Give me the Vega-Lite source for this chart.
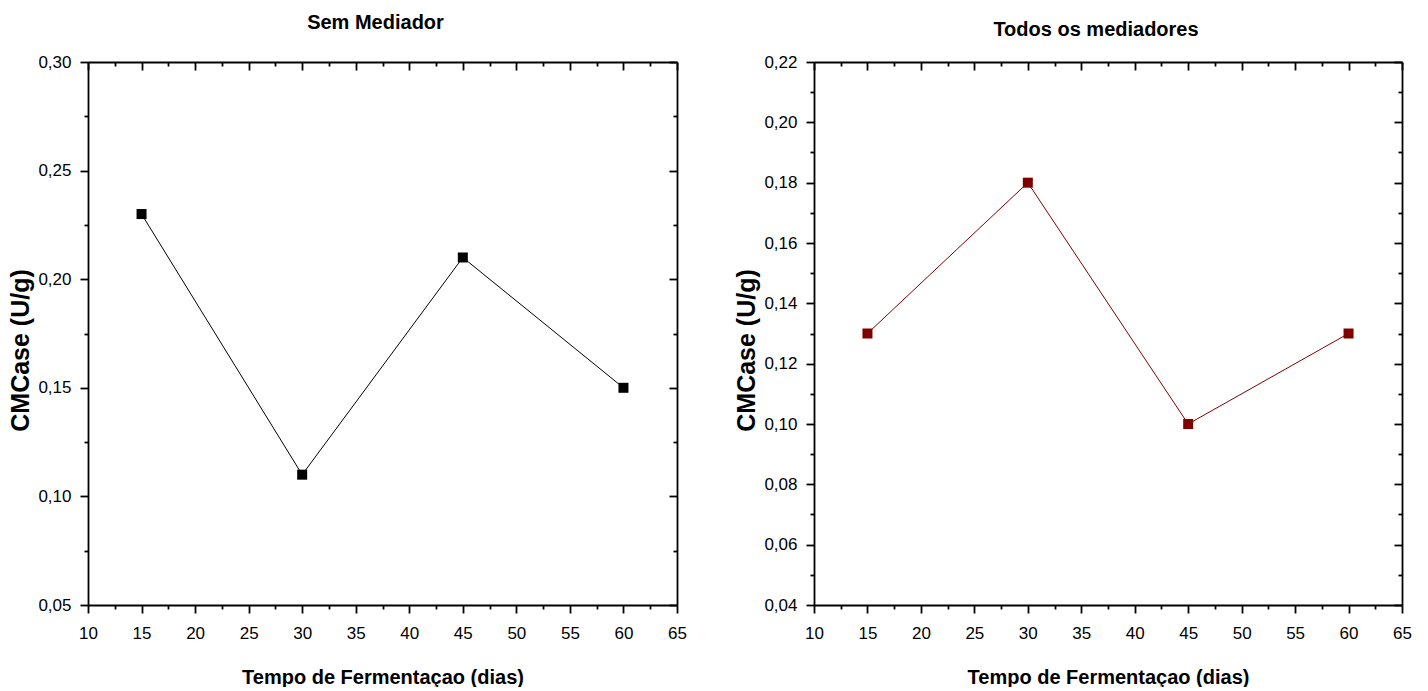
{
  "$schema": "https://vega.github.io/schema/vega-lite/v6.json",
  "background": "white",
  "padding": {"left": 8, "top": 13, "right": 5, "bottom": 0},
  "spacing": 47,
  "config": {
    "view": {"stroke": null},
    "font": "Liberation Sans",
    "axis": {
      "grid": false,
      "domainColor": "black",
      "domainWidth": 1.8,
      "tickColor": "black",
      "tickWidth": 1.8,
      "labelColor": "black",
      "labelFont": "Liberation Sans",
      "labelFontSize": 17,
      "labelFlush": false,
      "labelOverlap": false,
      "titleColor": "black",
      "titleFont": "Liberation Sans",
      "titleFontWeight": "bold",
      "titleFontSize": 20
    },
    "title": {"font": "Liberation Sans", "fontSize": 20, "fontWeight": "bold", "color": "black"}
  },
  "datasets": {
    "sem": [
      {"dias": 15, "cmcase": 0.23},
      {"dias": 30, "cmcase": 0.11},
      {"dias": 45, "cmcase": 0.21},
      {"dias": 60, "cmcase": 0.15}
    ],
    "todos": [
      {"dias": 15, "cmcase": 0.13},
      {"dias": 30, "cmcase": 0.18},
      {"dias": 45, "cmcase": 0.10},
      {"dias": 60, "cmcase": 0.13}
    ]
  },
  "hconcat": [
    {
      "width": 589,
      "height": 543,
      "title": {"text": "Sem Mediador", "offset": 20, "dx": -7},
      "data": {"name": "sem"},
      "layer": [
        {
          "mark": {"type": "line", "color": "black", "strokeWidth": 1},
          "encoding": {
            "x": {"field": "dias", "type": "quantitative", "scale": {"domain": [10, 65], "nice": false, "zero": false},
              "axis": {"orient": "bottom", "values": [10, 12.5, 15, 17.5, 20, 22.5, 25, 27.5, 30, 32.5, 35, 37.5, 40, 42.5, 45, 47.5, 50, 52.5, 55, 57.5, 60, 62.5, 65],
                "tickSize": {"condition": {"test": "datum.value % 5 == 0", "value": 8}, "value": 4},
                "labelExpr": "datum.value % 5 == 0 ? format(datum.value, 'd') : ''",
                "labelPadding": 12, "title": "Tempo de Fermentaçao (dias)", "titlePadding": 26}},
            "y": {"field": "cmcase", "type": "quantitative", "scale": {"domain": [0.05, 0.30], "nice": false, "zero": false},
              "axis": {"orient": "left", "values": [0.05, 0.075, 0.1, 0.125, 0.15, 0.175, 0.2, 0.225, 0.25, 0.275, 0.3],
                "tickSize": {"condition": {"test": "abs(datum.value * 20 - round(datum.value * 20)) < 1e-6", "value": 8}, "value": 4},
                "labelExpr": "abs(datum.value * 20 - round(datum.value * 20)) < 1e-6 ? replace(format(datum.value, '.2f'), '.', ',') : ''",
                "labelPadding": 9, "title": "CMCase (U/g)", "titleFontSize": 25, "titlePadding": 4, "titleY": 288}}
          }
        },
        {
          "mark": {"type": "square", "size": 100, "filled": true, "color": "black", "opacity": 1},
          "encoding": {
            "x": {"field": "dias", "type": "quantitative", "axis": null},
            "y": {"field": "cmcase", "type": "quantitative", "axis": null}
          }
        },
        {
          "mark": {"type": "line", "opacity": 0},
          "encoding": {
            "x": {"field": "dias", "type": "quantitative",
              "axis": {"orient": "top", "values": [10, 12.5, 15, 17.5, 20, 22.5, 25, 27.5, 30, 32.5, 35, 37.5, 40, 42.5, 45, 47.5, 50, 52.5, 55, 57.5, 60, 62.5, 65],
                "tickSize": {"condition": {"test": "datum.value % 5 == 0", "value": -8}, "value": -4},
                "labels": false, "title": null}},
            "y": {"field": "cmcase", "type": "quantitative",
              "axis": {"orient": "right", "values": [0.05, 0.075, 0.1, 0.125, 0.15, 0.175, 0.2, 0.225, 0.25, 0.275, 0.3],
                "tickSize": {"condition": {"test": "abs(datum.value * 20 - round(datum.value * 20)) < 1e-6", "value": -8}, "value": -4},
                "labels": false, "title": null}}
          }
        }
      ],
      "resolve": {"axis": {"x": "independent", "y": "independent"}}
    },
    {
      "width": 588,
      "height": 543,
      "title": {"text": "Todos os mediadores", "offset": 13, "dx": -12},
      "data": {"name": "todos"},
      "layer": [
        {
          "mark": {"type": "line", "color": "#800000", "strokeWidth": 1},
          "encoding": {
            "x": {"field": "dias", "type": "quantitative", "scale": {"domain": [10, 65], "nice": false, "zero": false},
              "axis": {"orient": "bottom", "values": [10, 12.5, 15, 17.5, 20, 22.5, 25, 27.5, 30, 32.5, 35, 37.5, 40, 42.5, 45, 47.5, 50, 52.5, 55, 57.5, 60, 62.5, 65],
                "tickSize": {"condition": {"test": "datum.value % 5 == 0", "value": 8}, "value": 4},
                "labelExpr": "datum.value % 5 == 0 ? format(datum.value, 'd') : ''",
                "labelPadding": 12, "title": "Tempo de Fermentaçao (dias)", "titlePadding": 26}},
            "y": {"field": "cmcase", "type": "quantitative", "scale": {"domain": [0.04, 0.22], "nice": false, "zero": false},
              "axis": {"orient": "left", "values": [0.04, 0.05, 0.06, 0.07, 0.08, 0.09, 0.1, 0.11, 0.12, 0.13, 0.14, 0.15, 0.16, 0.17, 0.18, 0.19, 0.2, 0.21, 0.22],
                "tickSize": {"condition": {"test": "abs(datum.value * 50 - round(datum.value * 50)) < 1e-6", "value": 8}, "value": 4},
                "labelExpr": "abs(datum.value * 50 - round(datum.value * 50)) < 1e-6 ? replace(format(datum.value, '.2f'), '.', ',') : ''",
                "labelPadding": 9, "title": "CMCase (U/g)", "titleFontSize": 25, "titlePadding": 4, "titleY": 288}}
          }
        },
        {
          "mark": {"type": "square", "size": 100, "filled": true, "color": "#800000", "opacity": 1},
          "encoding": {
            "x": {"field": "dias", "type": "quantitative", "axis": null},
            "y": {"field": "cmcase", "type": "quantitative", "axis": null}
          }
        },
        {
          "mark": {"type": "line", "opacity": 0},
          "encoding": {
            "x": {"field": "dias", "type": "quantitative",
              "axis": {"orient": "top", "values": [10, 12.5, 15, 17.5, 20, 22.5, 25, 27.5, 30, 32.5, 35, 37.5, 40, 42.5, 45, 47.5, 50, 52.5, 55, 57.5, 60, 62.5, 65],
                "tickSize": {"condition": {"test": "datum.value % 5 == 0", "value": -8}, "value": -4},
                "labels": false, "title": null}},
            "y": {"field": "cmcase", "type": "quantitative",
              "axis": {"orient": "right", "values": [0.04, 0.05, 0.06, 0.07, 0.08, 0.09, 0.1, 0.11, 0.12, 0.13, 0.14, 0.15, 0.16, 0.17, 0.18, 0.19, 0.2, 0.21, 0.22],
                "tickSize": {"condition": {"test": "abs(datum.value * 50 - round(datum.value * 50)) < 1e-6", "value": -8}, "value": -4},
                "labels": false, "title": null}}
          }
        }
      ],
      "resolve": {"axis": {"x": "independent", "y": "independent"}}
    }
  ]
}
